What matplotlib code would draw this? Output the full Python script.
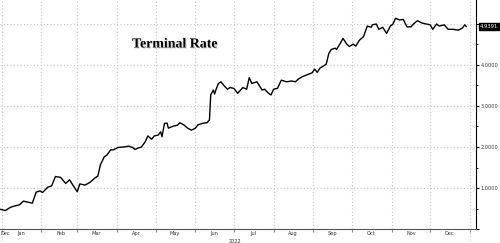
import datetime as dt
import matplotlib
matplotlib.use("Agg")
import matplotlib.pyplot as plt
import matplotlib.dates as mdates
import matplotlib.patheffects as pe

# days since 2022-01-01 and terminal rate (%)
day_offset = [-1, 3, 7, 10, 14, 17, 21, 24, 27, 30, 32, 36, 39, 42, 46, 50, 53, 56,
              59, 61, 65, 69, 73, 75, 77, 80, 82, 85, 87, 91, 95, 99, 102, 104, 106,
              109, 112, 114, 117, 119, 122, 124, 125, 127, 129, 130, 134, 137, 139,
              142, 145, 148, 151, 153, 157, 160, 162, 163, 165, 166, 167, 169, 171,
              173, 176, 178, 181, 184, 188, 191, 193, 195, 199, 203, 205, 208, 210,
              212, 215, 218, 222, 226, 229, 231, 234, 238, 242, 244, 246, 248, 250,
              253, 255, 257, 260, 261, 264, 266, 269, 271, 274, 276, 279, 282, 285,
              288, 289, 292, 294, 297, 300, 303, 305, 307, 310, 313, 316, 319, 321,
              324, 328, 331, 334, 336, 339, 341, 345, 348, 352, 356, 359, 361, 362]
rate = [0.48, 0.45, 0.53, 0.56, 0.59, 0.68, 0.65, 0.63, 0.90, 0.93, 0.89, 1.02, 1.05,
        1.28, 1.26, 1.11, 1.20, 1.05, 0.91, 1.10, 1.07, 1.14, 1.25, 1.29, 1.56, 1.76,
        1.80, 1.93, 1.93, 1.99, 2.00, 2.02, 1.99, 1.94, 1.97, 2.00, 2.13, 2.27, 2.19,
        2.27, 2.29, 2.37, 2.25, 2.58, 2.58, 2.46, 2.51, 2.53, 2.59, 2.54, 2.46, 2.41,
        2.46, 2.54, 2.58, 2.59, 2.66, 3.27, 3.39, 3.29, 3.39, 3.55, 3.59, 3.51, 3.41,
        3.45, 3.43, 3.31, 3.45, 3.41, 3.69, 3.55, 3.59, 3.39, 3.41, 3.31, 3.27, 3.41,
        3.43, 3.63, 3.59, 3.61, 3.59, 3.65, 3.71, 3.76, 3.81, 3.90, 3.82, 3.92, 3.96,
        4.02, 4.28, 4.38, 4.41, 4.38, 4.53, 4.65, 4.51, 4.45, 4.51, 4.46, 4.61, 4.69,
        4.95, 4.92, 4.98, 5.00, 4.87, 4.92, 4.77, 4.95, 5.00, 5.14, 5.10, 5.11, 4.93,
        4.93, 5.00, 5.08, 5.02, 5.00, 4.98, 4.87, 5.00, 4.95, 4.98, 4.87, 4.87, 4.85,
        4.90, 4.98, 4.9391]
last_label = "4.9391"
title = "Terminal Rate"

start = dt.datetime(2022, 1, 1)
dates = [start + dt.timedelta(days=d) for d in day_offset]

fig = plt.figure(figsize=(5, 2.43), dpi=100)
ax = fig.add_axes([0, 14 / 243, 476 / 500, 229 / 243])

ax.plot(dates, rate, color="black", lw=1.0)

x_left = start - dt.timedelta(days=1.2)
ax.set_xlim(x_left, start + dt.timedelta(days=369.7))
ax.set_ylim(0, 229 / 41)

grid_kw = dict(color="#c4c4c4", lw=0.8, ls=(0, (1, 2)))
# month boundaries
ax.xaxis.set_major_locator(mdates.MonthLocator())
ax.xaxis.set_major_formatter(plt.NullFormatter())
ax.xaxis.set_minor_locator(mdates.MonthLocator(bymonthday=16))
ax.xaxis.set_minor_formatter(mdates.DateFormatter("%b"))
ax.tick_params(axis="x", which="major", length=2, color="#888888")
ax.tick_params(axis="x", which="minor", length=0, labelsize=3.6, pad=1.5,
               labelcolor="#333333")
ax.grid(True, axis="x", which="major", **grid_kw)

ax.yaxis.tick_right()
ax.set_yticks([0, 1, 2, 3, 4, 5])
ax.set_yticklabels(["", "1.0000", "2.0000", "3.0000", "4.0000", ""])
ax.set_yticks([0.5, 1.5, 2.5, 3.5, 4.5], minor=True)
ax.tick_params(axis="y", which="major", length=2, labelsize=3.6, pad=1.5,
               labelcolor="#333333", direction="out")
ax.tick_params(axis="y", which="minor", length=1.2, direction="out")
ax.grid(True, axis="y", which="major", **grid_kw)

for s in ["top", "left"]:
    ax.spines[s].set_visible(False)
ax.spines["right"].set_color("black")
ax.spines["right"].set_linewidth(0.8)
ax.spines["bottom"].set_color("#555555")
ax.spines["bottom"].set_linewidth(0.8)

# leading partial December label and year label
ax.annotate("Dec", xy=(x_left, 0), xycoords=("data", "axes fraction"),
            xytext=(0.5, -1.5), textcoords="offset points", ha="left", va="top",
            fontsize=3.6, color="#333333")
ax.annotate("2022", xy=(start + dt.timedelta(days=182), 0),
            xycoords=("data", "axes fraction"), xytext=(0, -7), textcoords="offset points",
            ha="center", va="top", fontsize=3.6, color="#333333")
for yr in [start, dt.datetime(2023, 1, 1)]:
    ax.plot([yr, yr], [0, -0.06], transform=ax.get_xaxis_transform(), clip_on=False,
            **grid_kw)

# last value box
ax.annotate(last_label, xy=(1, rate[-1]), xycoords=("axes fraction", "data"),
            xytext=(3, 0), textcoords="offset points", ha="left", va="center",
            fontsize=3.8, color="white",
            bbox=dict(boxstyle="square,pad=0.25", fc="black", ec="black"))

fig.text(175 / 500, 1 - 44 / 243, title, ha="center", va="center",
         fontsize=10, fontweight="bold", family="Liberation Serif",
         path_effects=[pe.withSimplePatchShadow(offset=(0.8, -0.8), shadow_rgbFace="gray",
                                                alpha=0.3)])

fig.savefig("out.png", dpi=100)
